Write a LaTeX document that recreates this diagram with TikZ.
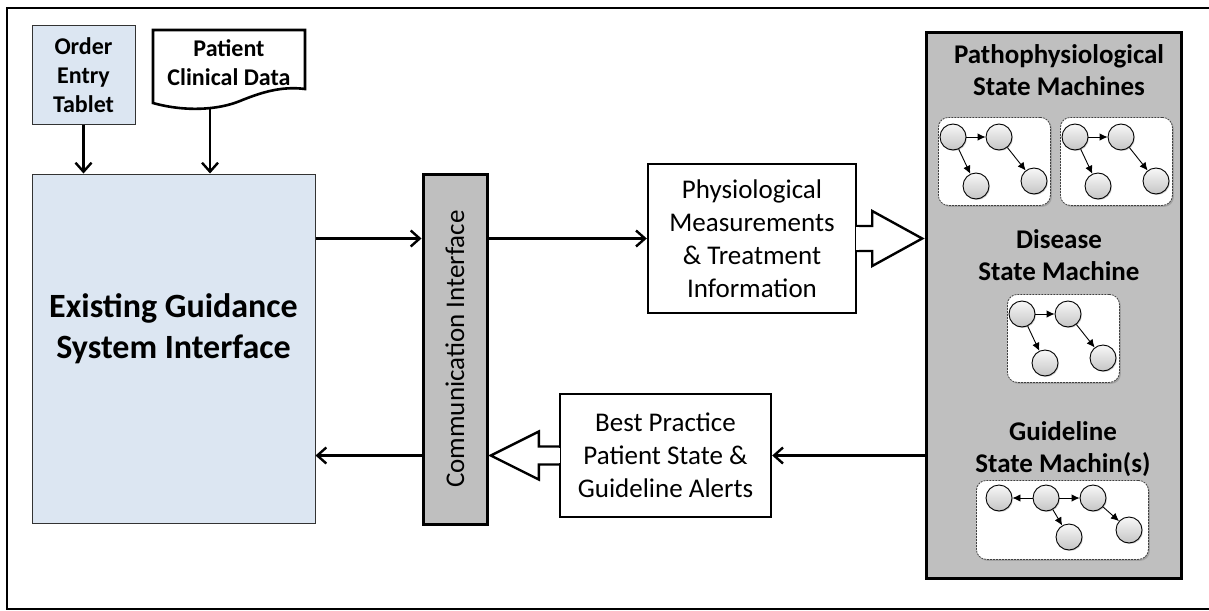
\documentclass[tikz,border=0pt]{standalone}
\usepackage{fontspec}
\setmainfont{Carlito}
\usetikzlibrary{arrows.meta,shadows,calc}

\definecolor{paleblue}{HTML}{DCE6F2}
\definecolor{panelgray}{HTML}{BFBFBF}

\tikzset{
  conn/.style={line width=2.4pt, -{Straight Barb[length=9pt,width=16pt]}},
  hollow/.style={line width=2.4pt, fill=white, draw=black, line join=miter},
  bluebox/.style={draw=black!80, line width=1pt, fill=paleblue, align=center},
  whitebox/.style={draw=black, line width=2.4pt, fill=white, align=center,
    font=\fontsize{27}{33}\selectfont},
  graybox/.style={draw=black, line width=3pt, fill=panelgray},
  title/.style={align=center, font=\bfseries\fontsize{27}{32.5}\selectfont, inner sep=0pt},
  minibox/.style={draw=black!75, dash pattern=on 2pt off 1pt, line width=0.8pt,
    fill=white, rounded corners=10pt, anchor=north west,
    drop shadow={shadow xshift=1.5pt, shadow yshift=-1.5pt, opacity=0.45}},
  statecirc/.style={circle, minimum size=26pt, inner sep=0pt, draw=black,
    line width=0.9pt, top color=gray!6, bottom color=gray!45,
    drop shadow={shadow xshift=1pt, shadow yshift=-1pt, opacity=0.35}},
  miniarrow/.style={line width=0.9pt, -{Latex[length=8pt,width=7.5pt]}},
}

% a small state machine: box named #1 with its top-left corner at (#2,#3)
\newcommand\minimachine[3]{%
  \node[minibox, minimum width=112pt, minimum height=88pt] (#1) at (#2,#3) {};
  \node[statecirc] (#1-a) at ($(#1.north west)+(15,20)$) {};
  \node[statecirc] (#1-b) at ($(#1.north west)+(61,20)$) {};
  \node[statecirc] (#1-c) at ($(#1.north west)+(38,69)$) {};
  \node[statecirc] (#1-d) at ($(#1.north west)+(96,64)$) {};
  \draw[miniarrow] (#1-a) -- (#1-b);
  \draw[miniarrow] (#1-a) -- (#1-c);
  \draw[miniarrow] (#1-b) -- (#1-d);
}

\begin{document}
\begin{tikzpicture}[x=1pt, y=-1pt]
\useasboundingbox (0,0) rectangle (1209,610);

% outer frame
\draw[line width=2pt] (7,8) rectangle (1216,608.5);

% inputs
\node[bluebox, minimum width=103pt, minimum height=98pt,
  font=\bfseries\fontsize{24}{29}\selectfont] (order) at (83.5,75) {Order\\Entry\\Tablet};

\draw[line width=2.6pt, fill=white, line join=miter]
  (153,30) -- (305,30) -- (305,89)
  .. controls (282,86) and (262,92) .. (240,101)
  .. controls (218,110) and (185,112) .. (153,103) -- cycle;
\node[align=center, font=\bfseries\fontsize{24}{29}\selectfont] (pcd) at (229,63) {Patient\\Clinical Data};
\coordinate (pcdfoot) at (210,108);

% existing system
\node[bluebox, minimum width=283pt, minimum height=349pt] (egs) at (173.5,348.5) {};
\node[align=center, font=\bfseries\fontsize{34}{41}\selectfont] (egslabel) at (173.5,329) {Existing Guidance\\System Interface};

% communication interface
\node[graybox, minimum width=64pt, minimum height=350pt] (ci) at (455,349) {};
\node[rotate=90, font=\fontsize{27}{33}\selectfont] (cilabel) at (ci.center) {Communication Interface};

% message boxes
\node[whitebox, minimum width=208pt, minimum height=149pt] (physio) at (752,238.5)
  {Physiological\\Measurements\\\& Treatment\\Information};
\node[whitebox, minimum width=211pt, minimum height=123pt] (best) at (665.5,455.5)
  {Best Practice\\Patient State \&\\Guideline Alerts};

% state machine panel
\node[graybox, minimum width=255pt, minimum height=545pt] (sm) at (1053.5,305.5) {};
\node[title] (pathot) at (1059,70) {Pathophysiological\\State Machines};
\node[title] (diseaset) at (1059,255) {Disease\\State Machine};
\node[title] (guidet) at (1063,449) {Guideline\\State Machin(s)};

\minimachine{pa}{938}{117}
\minimachine{pb}{1060}{117}
\minimachine{ds}{1007}{294}

% guideline machine
\node[minibox, minimum width=172pt, minimum height=79pt] (gl) at (976,480) {};
\node[statecirc] (gl-l) at ($(gl.north west)+(23,18)$) {};
\node[statecirc] (gl-m) at ($(gl.north west)+(70,18)$) {};
\node[statecirc] (gl-n) at ($(gl.north west)+(117,18)$) {};
\node[statecirc] (gl-c) at ($(gl.north west)+(93,57)$) {};
\node[statecirc] (gl-d) at ($(gl.north west)+(153,50)$) {};
\draw[miniarrow] (gl-m) -- (gl-l);
\draw[miniarrow] (gl-m) -- (gl-n);
\draw[miniarrow] (gl-m) -- (gl-c);
\draw[miniarrow] (gl-n) -- (gl-d);

% hollow block arrows
\filldraw[hollow]
  ($(physio.east)+(0,-12.5)$) -- ++(15,0) -- ++(0,-15) -- ($(physio.east)+(65,0)$)
  -- ($(physio.east)+(15,27.5)$) -- ++(0,-15) -- ($(physio.east)+(0,12.5)$);
\fill[white] ($(physio.east)+(-1.6,-11.2)$) rectangle ($(physio.east)+(1.6,11.2)$);

\filldraw[hollow]
  ($(best.west)+(0,-9)$) -- ++(-20,0) -- ++(0,-15) -- ($(best.west)+(-68,0)$)
  -- ($(best.west)+(-20,24)$) -- ++(0,-15) -- ($(best.west)+(0,9)$);
\fill[white] ($(best.west)+(-1.6,-7.8)$) rectangle ($(best.west)+(1.6,7.8)$);

% connectors
\draw[conn] (order.south) -- (order.south |- egs.north);
\draw[conn] (pcdfoot) -- (pcdfoot |- egs.north);
\draw[conn] (egs.east |- physio.west) -- (ci.west |- physio.west);
\draw[conn] (ci.east |- physio.west) -- (physio.west);
\draw[conn] (sm.west |- best.east) -- (best.east);
\draw[conn] (ci.west |- best.west) -- (egs.east |- best.west);
\end{tikzpicture}
\end{document}
